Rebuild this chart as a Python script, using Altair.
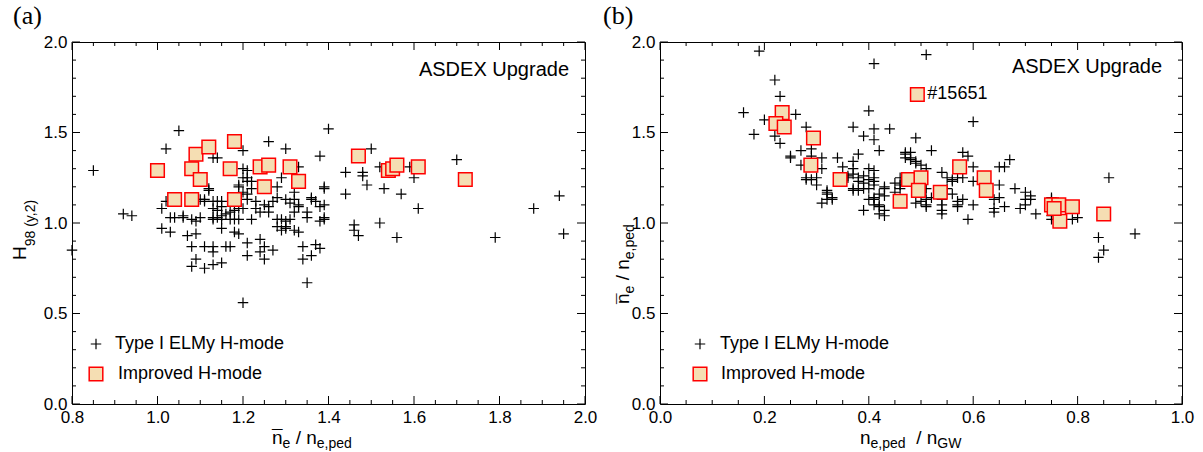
import altair as alt

SANS = "Liberation Sans"
SERIF = "Liberation Serif"
W1, W2, H = 513, 522, 362

# ---------------- data: panel (a) ----------------
A_ELM_X = [0.80, 0.85, 0.92, 0.94, 1.05, 1.02, 1.26, 1.30, 1.20, 1.13, 1.14, 1.33, 1.29, 1.20, 1.21, 1.19, 1.12, 1.36,
           1.32, 1.28, 1.01, 1.04, 1.06, 1.11, 1.40, 1.38, 1.44, 1.48, 1.48, 1.49, 1.44, 1.50, 1.52, 1.59, 1.60, 1.53,
           1.57, 1.61, 1.70, 1.88, 1.94, 1.46, 1.52, 1.39, 1.39, 1.36, 1.38, 1.39, 1.95, 1.79, 1.56, 1.46, 1.20, 1.35,
           1.01, 1.03, 1.03, 1.06, 1.02, 1.07, 1.09, 1.08, 1.09, 1.08, 1.11, 1.13, 1.11, 1.13, 1.13, 1.15, 1.16, 1.17,
           1.15, 1.18, 1.19, 1.21, 1.21, 1.24, 1.25, 1.27, 1.25, 1.24, 1.34, 1.37, 1.38, 1.36, 1.34, 1.32, 1.33, 1.28,
           1.30, 1.39, 1.38, 1.39, 1.47, 1.12, 1.10, 1.11, 1.13, 1.14, 1.15, 1.13, 1.14, 1.15, 1.08, 1.09, 1.10, 1.13,
           1.13, 1.14, 1.15, 1.17, 1.18, 1.19, 1.20, 1.17, 1.18, 1.19, 1.21, 1.20, 1.21, 1.22, 1.19, 1.20, 1.21, 1.22,
           1.21, 1.23, 1.23, 1.22, 1.24, 1.25, 1.26, 1.26, 1.27, 1.28, 1.28, 1.29, 1.30, 1.31, 1.30, 1.31, 1.32, 1.33,
           1.33, 1.32, 1.35, 1.35, 1.29, 1.30, 1.15, 1.16, 1.37]
A_ELM_Y = [0.85, 1.29, 1.05, 1.04, 1.51, 1.41, 1.45, 1.41, 1.40, 1.36, 1.36, 1.31, 1.25, 1.30, 1.25, 1.21, 1.19, 1.13,
           1.17, 1.20, 1.08, 1.03, 1.04, 1.12, 1.52, 1.37, 1.28, 1.28, 1.26, 1.21, 1.16, 1.41, 1.31, 1.31, 1.25, 1.19,
           1.16, 1.08, 1.35, 1.08, 1.15, 0.99, 1.00, 1.20, 1.10, 1.14, 1.01, 1.03, 0.94, 0.92, 0.92, 0.96, 0.56, 0.67,
           0.97, 0.95, 1.03, 1.03, 1.12, 0.93, 0.94, 0.87, 0.80, 0.76, 0.75, 0.77, 0.87, 0.87, 0.84, 0.78, 0.87, 0.87,
           0.97, 0.95, 0.94, 0.89, 0.82, 0.84, 0.87, 0.85, 0.80, 0.91, 0.87, 0.88, 0.86, 0.82, 0.80, 0.96, 0.95, 0.98,
           0.98, 1.02, 1.09, 1.19, 0.93, 1.18, 1.13, 1.13, 1.12, 1.12, 1.12, 1.08, 1.07, 1.09, 1.02, 1.01, 1.03, 1.03,
           1.02, 1.03, 1.02, 1.06, 1.07, 1.08, 1.08, 1.02, 1.02, 1.02, 1.29, 1.25, 1.23, 1.23, 1.20, 1.17, 1.16, 1.19,
           1.13, 1.12, 1.08, 1.02, 1.06, 1.10, 1.09, 1.06, 1.12, 1.14, 1.02, 1.02, 1.01, 1.02, 1.13, 1.11, 1.13, 1.10,
           1.09, 1.06, 1.06, 1.03, 0.96, 0.97, 1.04, 1.05, 1.12]
A_IMP_X = [1.00, 1.04, 1.08, 1.08, 1.09, 1.10, 1.12, 1.18, 1.17, 1.18, 1.24, 1.26, 1.25, 1.31, 1.33, 1.47, 1.54,
           1.55, 1.56, 1.61, 1.72]
A_IMP_Y = [1.29, 1.13, 1.13, 1.30, 1.38, 1.24, 1.42, 1.45, 1.30, 1.13, 1.31, 1.32, 1.20, 1.31, 1.23, 1.37, 1.29,
           1.30, 1.32, 1.31, 1.24]

# ---------------- data: panel (b) ----------------
B_ELM_X = [0.19, 0.22, 0.23, 0.16, 0.26, 0.20, 0.18, 0.22, 0.23, 0.28, 0.25, 0.25, 0.27, 0.29, 0.29, 0.27, 0.31, 0.31,
           0.28, 0.29, 0.30, 0.30, 0.32, 0.32, 0.32, 0.31, 0.33, 0.33, 0.34, 0.35, 0.37, 0.37, 0.36, 0.36, 0.37, 0.38,
           0.37, 0.39, 0.38, 0.37, 0.39, 0.39, 0.40, 0.39, 0.40, 0.41, 0.39, 0.41, 0.41, 0.40, 0.41, 0.41, 0.42, 0.41,
           0.40, 0.41, 0.41, 0.41, 0.41, 0.42, 0.42, 0.43, 0.43, 0.44, 0.47, 0.47, 0.45, 0.46, 0.45, 0.49, 0.49, 0.48,
           0.49, 0.43, 0.42, 0.40, 0.42, 0.43, 0.38, 0.38, 0.37, 0.32, 0.28, 0.51, 0.52, 0.50, 0.51, 0.54, 0.54, 0.54,
           0.55, 0.56, 0.57, 0.57, 0.54, 0.56, 0.51, 0.60, 0.52, 0.48, 0.47, 0.48, 0.49, 0.50, 0.51, 0.55, 0.56, 0.57,
           0.58, 0.60, 0.43, 0.46, 0.46, 0.58, 0.59, 0.60, 0.65, 0.66, 0.67, 0.65, 0.68, 0.70, 0.71, 0.70, 0.71, 0.65,
           0.64, 0.66, 0.64, 0.64, 0.69, 0.70, 0.72, 0.75, 0.75, 0.75, 0.75, 0.79, 0.80, 0.86, 0.84, 0.85, 0.84, 0.91,
           0.58, 0.59, 0.60, 0.57, 0.54, 0.51, 0.51]
B_ELM_Y = [1.95, 1.79, 1.70, 1.61, 1.60, 1.57, 1.49, 1.48, 1.44, 1.53, 1.37, 1.36, 1.40, 1.41, 1.37, 1.32, 1.36, 1.30,
           1.25, 1.24, 1.25, 1.21, 1.17, 1.16, 1.13, 1.11, 1.14, 1.13, 1.36, 1.31, 1.34, 1.30, 1.26, 1.25, 1.27, 1.25,
           1.53, 1.48, 1.38, 1.19, 1.19, 1.22, 1.24, 1.07, 1.30, 1.29, 1.26, 1.25, 1.88, 1.62, 1.52, 1.46, 1.40, 1.23,
           1.19, 1.21, 1.14, 1.13, 1.10, 1.10, 1.05, 1.20, 1.15, 1.52, 1.39, 1.38, 1.22, 1.19, 1.17, 1.47, 1.34, 1.36,
           1.11, 1.19, 1.16, 1.13, 1.09, 1.04, 1.18, 1.23, 1.18, 1.18, 1.24, 1.19, 1.14, 1.12, 1.10, 1.13, 1.07, 1.05,
           1.19, 1.16, 1.12, 1.10, 1.28, 1.23, 1.93, 1.56, 1.40, 1.39, 1.36, 1.35, 1.33, 1.32, 1.30, 1.25, 1.24, 1.25,
           1.25, 1.23, 1.07, 1.25, 1.21, 1.39, 1.37, 1.31, 1.31, 1.31, 1.35, 1.21, 1.19, 1.17, 1.15, 1.13, 1.13, 1.14,
           1.13, 1.09, 1.08, 1.06, 1.08, 1.10, 1.05, 1.14, 1.13, 1.02, 1.04, 1.02, 1.03, 1.25, 0.92, 0.85, 0.81, 0.94,
           1.13, 1.02, 1.10, 1.09, 1.10, 1.13, 1.09]
B_IMP_X = [0.234, 0.222, 0.238, 0.294, 0.289, 0.345, 0.460, 0.476, 0.493, 0.500, 0.495, 0.537, 0.574, 0.621, 0.625,
           0.750, 0.764, 0.766, 0.790, 0.850, 0.755]
B_IMP_Y = [1.61, 1.55, 1.53, 1.47, 1.32, 1.24, 1.12, 1.24, 1.71, 1.25, 1.18, 1.17, 1.31, 1.25, 1.18, 1.10, 1.10,
           1.01, 1.09, 1.05, 1.08]
B_LABEL_X = [0.493]
B_LABEL_Y = [1.71]
B_LABEL_TEXT = ["#15651"]

# ---------------- tick positions ----------------
A_X_MAJOR = [0.8, 1.0, 1.2, 1.4, 1.6, 1.8, 2.0]
A_X_MINOR = [0.85, 0.9, 0.95, 1.05, 1.1, 1.15, 1.25, 1.3, 1.35, 1.45, 1.5, 1.55, 1.65, 1.7, 1.75, 1.85, 1.9, 1.95]
B_X_MAJOR = [0.0, 0.2, 0.4, 0.6, 0.8, 1.0]
B_X_MINOR = [0.05, 0.1, 0.15, 0.25, 0.3, 0.35, 0.45, 0.5, 0.55, 0.65, 0.7, 0.75, 0.85, 0.9, 0.95]
Y_MAJOR = [0.0, 0.5, 1.0, 1.5, 2.0]
Y_MINOR = [0.1, 0.2, 0.3, 0.4, 0.6, 0.7, 0.8, 0.9, 1.1, 1.2, 1.3, 1.4, 1.6, 1.7, 1.8, 1.9]

LEGEND = ["Type I ELMy H-mode", "Improved H-mode"]
TAG = "ASDEX Upgrade"

CROSS = "M-1,0L1,0M0,-1L0,1"
FILL = "#F5DEB3"
EDGE = "#FF0000"

CW = {"n": .556, "e": .556, "p": .556, "d": .556, ",": .278, " ": .278, "/": .278, "H": .722,
      "(": .333, ")": .333, "y": .5, "G": .778, "W": .944, "9": .556, "8": .556, "2": .556}


def width(s, size):
    return sum(CW.get(c, 0.0) for c in s) * size


def one():
    return alt.Data(values=[{"k": 0}])


def txt(s, x, y, size, font=SANS, align="left", baseline="alphabetic", angle=0):
    return alt.Chart(one()).mark_text(
        text=s, fontSize=size, font=font, align=align, baseline=baseline, angle=angle, color="black"
    ).encode(x=alt.value(x), y=alt.value(y))


def runs(parts, x0, y0, vertical=False):
    """parts: (text, size, baseline shift, overbar); blank pieces only advance the pen"""
    out = []
    pos = 0.0
    for s, size, shift, bar in parts:
        w = width(s, size)
        if s.strip():
            if vertical:
                out.append(txt(s, x0 + shift, y0 - pos, size, angle=270))
                if bar:
                    out.append(txt("\u00af", x0 + shift + 1, y0 - pos - w / 2, size, align="center", angle=270))
            else:
                out.append(txt(s, x0 + pos, y0 + shift, size))
                if bar:
                    out.append(txt("\u00af", x0 + pos + w / 2, y0 + shift - 1, size, align="center"))
        pos += w
    return out


def rows(**cols):
    keys = list(cols)
    return alt.Data(values=[dict(zip(keys, v)) for v in zip(*cols.values())])


def panel(dom, xmaj, xmin, W, ex, ey, ix, iy, legx, legtx):
    xs = alt.Scale(domain=dom, nice=False, zero=False)
    ys = alt.Scale(domain=[0, 2], nice=False, zero=False)
    ax = alt.Axis(values=xmaj, format=".1f", domain=False, ticks=False, grid=False, labelFontSize=17,
                  labelFont=SANS, labelColor="black", labelPadding=5, labelFlush=False, labelOverlap=False,
                  title=None)
    ay = alt.Axis(values=Y_MAJOR, format=".1f", domain=False, ticks=False, grid=False, labelFontSize=17,
                  labelFont=SANS, labelColor="black", labelPadding=5, labelFlush=False, labelOverlap=False,
                  title=None)
    X = lambda f: alt.X(f, scale=xs, axis=ax)
    Y = lambda f: alt.Y(f, scale=ys, axis=ay)
    layers = []
    for vals, L in ((xmaj, 8), (xmin, 4)):
        d = rows(v=vals)
        layers.append(alt.Chart(d).mark_rule(color="black", strokeWidth=1).encode(
            x=X("v:Q"), y=alt.value(0), y2=alt.value(L)))
        layers.append(alt.Chart(d).mark_rule(color="black", strokeWidth=1).encode(
            x=X("v:Q"), y=alt.value(H), y2=alt.value(H - L)))
    for vals, L in ((Y_MAJOR, 8), (Y_MINOR, 4)):
        d = rows(v=vals)
        layers.append(alt.Chart(d).mark_rule(color="black", strokeWidth=1).encode(
            y=Y("v:Q"), x=alt.value(0), x2=alt.value(L)))
        layers.append(alt.Chart(d).mark_rule(color="black", strokeWidth=1).encode(
            y=Y("v:Q"), x=alt.value(W), x2=alt.value(W - L)))
    layers.append(alt.Chart(rows(x=ex, y=ey)).mark_point(
        shape=CROSS, size=110, strokeWidth=1.2, color="black", filled=False, opacity=1).encode(
        x=X("x:Q"), y=Y("y:Q")))
    layers.append(alt.Chart(rows(x=ix, y=iy)).mark_square(
        size=185, fill=FILL, stroke=EDGE, strokeWidth=1.5, opacity=1, fillOpacity=1).encode(
        x=X("x:Q"), y=Y("y:Q")))
    # legend
    layers.append(alt.Chart(one()).mark_point(
        shape=CROSS, size=110, strokeWidth=1.2, color="black", filled=False, opacity=1).encode(
        x=alt.value(legx), y=alt.value(302)))
    layers.append(alt.Chart(one()).mark_square(
        size=185, fill=FILL, stroke=EDGE, strokeWidth=1.5, opacity=1, fillOpacity=1).encode(
        x=alt.value(legx), y=alt.value(332)))
    layers.append(txt(LEGEND[0], legtx[0], 302, 18, baseline="middle"))
    layers.append(txt(LEGEND[1], legtx[1], 332, 18, baseline="middle"))
    return layers, X, Y


SP = " "
# ---- panel (a) ----
la, Xa, Ya = panel([0.8, 2.0], A_X_MAJOR, A_X_MINOR, W1, A_ELM_X, A_ELM_Y, A_IMP_X, A_IMP_Y, 24, (43, 46))
la.append(txt(TAG, 497, 34, 20, align="right"))
la.append(txt("(a)", -59, -18, 26, font=SERIF))
la += runs([("n", 19, 0, True), ("e", 14, 4, False), (SP, 19, 0, False), ("/", 19, 0, False),
            (SP, 19, 0, False), ("n", 19, 0, False), ("e,ped", 14, 4, False)], 200, 402)
la += runs([("H", 19, 0, False), ("98", 14, 9, False), (SP, 14, 9, False), ("(y,2)", 14, 9, False)],
           -46, 218, vertical=True)
left = alt.layer(*la).properties(width=W1, height=H)

# ---- panel (b) ----
lb, Xb, Yb = panel([0.0, 1.0], B_X_MAJOR, B_X_MINOR, W2, B_ELM_X, B_ELM_Y, B_IMP_X, B_IMP_Y, 40, (60, 61))
lb.append(txt(TAG, 502, 31, 20, align="right"))
lb.append(txt("(b)", -57, -18, 26, font=SERIF))
lb.append(alt.Chart(rows(x=B_LABEL_X, y=B_LABEL_Y, t=B_LABEL_TEXT)).mark_text(
    align="left", baseline="middle", dx=10, fontSize=18, font=SANS, color="black").encode(
    x=Xb("x:Q"), y=Yb("y:Q"), text="t:N"))
lb += runs([("n", 19, 0, False), ("e,ped", 14, 4, False), (SP + SP, 19, 0, False), ("/", 19, 0, False),
            (SP, 19, 0, False), ("n", 19, 0, False), ("GW", 14, 4, False)], 200, 402)
lb += runs([("n", 19, 0, True), ("e", 14, 5, False), (SP, 19, 0, False), ("/", 19, 0, False),
            (SP, 19, 0, False), ("n", 19, 0, False), ("e,ped", 14, 5, False)], -31, 262, vertical=True)
right = alt.layer(*lb).properties(width=W2, height=H)

chart = alt.hconcat(left, right, spacing=75, bounds="flush").properties(
    padding={"left": 10, "top": 2, "right": 5, "bottom": 5}
).configure_view(stroke="black", strokeWidth=1)

chart.save("out.html", embed_options={"renderer": "svg", "actions": False})
